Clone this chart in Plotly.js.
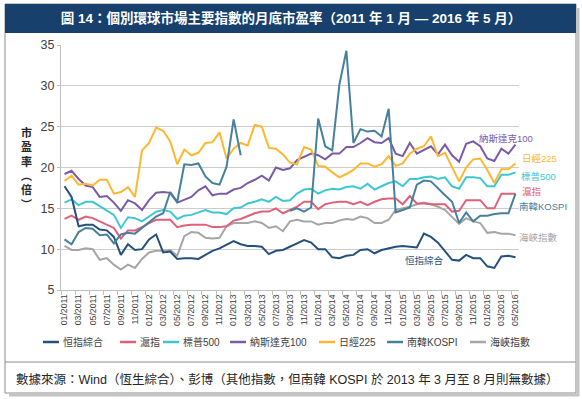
<!DOCTYPE html>
<html><head><meta charset="utf-8">
<script src="https://cdn.plot.ly/plotly-3.0.1.min.js"></script>
<style>html,body{margin:0;padding:0;background:#fff;}#chart{width:582px;height:399px;}</style>
</head><body><div id="chart"></div>
<script>
const months = ['01/2011','02/2011','03/2011','04/2011','05/2011','06/2011','07/2011','08/2011','09/2011','10/2011','11/2011','12/2011',
'01/2012','02/2012','03/2012','04/2012','05/2012','06/2012','07/2012','08/2012','09/2012','10/2012','11/2012','12/2012',
'01/2013','02/2013','03/2013','04/2013','05/2013','06/2013','07/2013','08/2013','09/2013','10/2013','11/2013','12/2013',
'01/2014','02/2014','03/2014','04/2014','05/2014','06/2014','07/2014','08/2014','09/2014','10/2014','11/2014','12/2014',
'01/2015','02/2015','03/2015','04/2015','05/2015','06/2015','07/2015','08/2015','09/2015','10/2015','11/2015','12/2015',
'01/2016','02/2016','03/2016','04/2016','05/2016'];

const hsci = [17.7,16.4,12.8,13.0,13.0,12.4,12.3,11.5,9.3,10.6,9.9,10.0,11.2,11.8,9.6,9.7,8.8,8.9,8.9,8.8,9.3,9.8,10.1,10.5,11.0,10.6,10.4,10.4,10.3,9.4,9.8,9.9,10.3,10.7,11.1,10.8,10.0,10.0,9.0,8.9,9.2,9.3,9.9,10.0,9.5,9.9,10.1,10.3,10.4,10.3,10.2,11.9,11.5,10.8,9.7,8.7,8.6,9.3,8.9,8.9,7.9,7.7,9.1,9.2,9.0];
const shanghai = [13.7,14.1,13.6,14.0,13.8,13.4,13.1,12.6,11.3,12.3,12.3,12.7,13.2,13.6,13.6,13.6,12.7,12.9,13.0,13.0,13.0,12.7,12.7,12.8,13.5,13.7,14.1,14.4,14.6,14.6,15.0,14.4,14.8,15.2,15.8,15.8,14.9,15.5,15.7,15.8,15.8,15.5,15.8,15.4,15.8,16.1,16.2,16.2,15.5,16.5,15.6,15.6,15.5,15.5,15.5,14.6,14.7,16.0,16.0,16.0,15.0,15.0,16.8,16.8,16.8];
const sp500 = [15.7,16.1,15.4,15.8,15.8,15.3,14.8,14.2,12.6,13.9,13.8,13.4,14.0,14.6,14.8,14.6,13.7,14.1,14.2,14.5,14.8,14.5,14.5,14.3,15.0,15.1,15.6,15.8,16.1,15.8,16.4,15.9,16.0,16.8,17.3,17.4,16.8,17.2,17.4,17.3,17.6,17.7,17.4,18.0,17.3,17.7,18.1,18.3,17.7,18.6,18.6,18.8,18.9,18.6,18.8,17.7,17.4,18.8,18.8,18.7,17.7,17.7,19.1,19.1,19.4];
const nasdaq100 = [19.2,19.6,18.6,17.8,17.6,16.4,16.5,15.7,14.7,16.0,15.6,14.8,16.0,16.9,17.0,16.9,15.7,16.1,16.4,17.2,17.7,16.6,16.8,16.8,17.3,17.5,18.1,18.5,19.0,18.4,20.0,19.7,19.9,20.9,21.3,21.7,21.5,21.0,21.7,21.7,22.5,22.5,23.0,23.6,23.1,23.0,23.6,21.7,21.4,23.0,21.7,22.1,22.6,21.6,22.8,21.5,20.7,22.9,23.2,22.6,21.1,20.8,22.3,21.7,22.8];
const nikkei225 = [18.35,19.0,17.9,18.0,17.8,18.5,18.5,16.8,17.0,17.6,16.4,22.1,23.0,24.9,24.5,23.2,20.4,22.2,21.5,21.8,23.0,23.1,24.3,21.1,22.3,23.0,22.7,25.2,25.0,22.4,22.3,21.6,20.6,20.4,22.5,22.2,20.2,20.1,19.4,18.8,19.2,19.7,20.5,20.5,20.1,20.4,21.4,20.2,20.5,21.7,22.3,22.6,23.8,21.4,21.8,20.1,18.3,20.0,21.0,21.1,19.7,18.1,19.8,19.8,20.5];
const kospi = [11.2,10.6,12.1,12.6,12.5,11.7,11.8,10.7,11.8,12.0,11.9,12.6,13.4,14.0,14.4,17.0,15.8,20.4,20.3,20.5,18.9,18.1,17.9,20.1,25.9,21.5,null,null,null,null,null,null,14.7,15.0,14.6,15.1,26.0,22.6,22.1,30.1,34.3,23.0,24.7,24.4,24.5,23.8,27.2,14.5,14.8,15.1,17.9,18.4,18.3,17.4,16.6,15.8,13.2,14.5,13.4,14.1,14.1,14.3,14.4,14.4,16.8];
const taiwan = [10.4,9.9,9.9,10.1,10.0,8.7,8.9,8.1,7.5,8.1,7.7,8.8,9.6,9.8,9.8,9.9,9.2,11.6,12.1,12.0,11.4,11.3,11.4,12.8,13.2,13.2,13.2,13.4,13.2,12.6,12.8,12.2,13.4,13.6,13.4,13.4,13.0,13.2,13.2,13.5,13.7,13.6,14.0,13.8,13.2,13.2,13.6,14.8,15.0,15.2,15.5,15.7,15.5,15.2,14.8,13.9,13.1,13.8,13.4,13.2,12.0,12.1,11.9,11.9,11.7];

const seriesNames = ['恒指綜合','滬指','標普500','納斯達克100','日經225','南韓KOSPI','海峽指數'];
const seriesValues = [hsci, shanghai, sp500, nasdaq100, nikkei225, kospi, taiwan];
const seriesColors = ['#24507e','#e0607a','#3ec6d2','#7a5ba6','#fdb732','#47809b','#a6a6a6'];
const yTicks = [5,10,15,20,25,30,35];

const titleText = '圖 14：個別環球市場主要指數的月底市盈率（2011 年 1 月 — 2016 年 5 月）';
const sourceText = '數據來源：Wind（恆生綜合）、彭博（其他指數，但南韓 KOSPI 於 2013 年 3 月至 8 月則無數據）';
const yTitleText = '市<br>盈<br>率<br>︵<br>倍<br>︶';

const FONT = '"Liberation Sans", Arial, "Noto Sans CJK TC", sans-serif';
const L = 61, T = 45, W = 458, H = 245;
const px = X => (X - L) / W;
const py = Y => (T + H - Y) / H;

const xIdx = months.map((m, i) => i);
const tickIdx = xIdx.filter(i => i % 2 === 0);

const drawOrder = [6, 1, 2, 3, 4, 0, 5];
const traces = drawOrder.map(k => ({
  type: 'scatter', mode: 'lines', name: seriesNames[k],
  x: xIdx, y: seriesValues[k], connectgaps: false,
  line: {color: seriesColors[k], width: 2},
  hoverinfo: 'skip', showlegend: false
}));

const shapes = [];
const annotations = [];

// frame & banner
shapes.push({type:'rect', xref:'paper', yref:'paper', x0:px(5), x1:px(576), y0:py(4), y1:py(393), line:{color:'#8c8c8c', width:1}, fillcolor:'rgba(0,0,0,0)', layer:'below'});
shapes.push({type:'line', xref:'paper', yref:'paper', x0:px(578), x1:px(578), y0:py(8), y1:py(396), line:{color:'#c4c4c4', width:3}});
shapes.push({type:'line', xref:'paper', yref:'paper', x0:px(9), x1:px(579), y0:py(395), y1:py(395), line:{color:'#c4c4c4', width:3}});
shapes.push({type:'line', xref:'paper', yref:'paper', x0:px(5), x1:px(576), y0:py(362), y1:py(362), line:{color:'#8c8c8c', width:1}});
shapes.push({type:'rect', xref:'paper', yref:'paper', x0:px(5), x1:px(576), y0:py(4), y1:py(33), line:{width:0}, fillcolor:'#17406d', layer:'below'});

// y title stacked (single text block)
annotations.push({
  xref:'paper', yref:'paper', x:px(26), y:py(168), text:'<b>'+yTitleText+'</b>', showarrow:false,
  xanchor:'center', yanchor:'middle', align:'center', font:{family:FONT, size:11, color:'#262626'}
});

// series labels
const labelPos = [[403,260],[520,191],[519,176],[477,138],[520,158],[517,207],[517,237]];
seriesNames.forEach((n, k) => annotations.push({
  xref:'paper', yref:'paper', x:px(labelPos[k][0]), y:py(labelPos[k][1]), text:n, showarrow:false,
  xanchor:'left', yanchor:'middle', font:{family:FONT, size:9.5, color:seriesColors[k]}
}));

// manual legend
const legendX = [43,120,163,230,319,387,470];
const legendY = 342;
seriesNames.forEach((n, k) => {
  shapes.push({type:'line', xref:'paper', yref:'paper', x0:px(legendX[k]), x1:px(legendX[k]+16), y0:py(legendY), y1:py(legendY), line:{color:seriesColors[k], width:2.5}});
  annotations.push({xref:'paper', yref:'paper', x:px(legendX[k]+18), y:py(legendY), text:n, showarrow:false,
    xanchor:'left', yanchor:'middle', font:{family:FONT, size:10, color:'#404040'}});
});

// source
annotations.push({xref:'paper', yref:'paper', x:px(14), y:py(379), text:sourceText, showarrow:false,
  xanchor:'left', yanchor:'middle', font:{family:FONT, size:12.5, color:'#262626'}});

const layout = {
  width: 582, height: 399,
  margin: {l: L, r: 582 - L - W, t: T, b: 399 - T - H, pad: 0},
  paper_bgcolor: '#ffffff', plot_bgcolor: '#ffffff',
  showlegend: false,
  title: {text: '<b>' + titleText + '</b>', x: 0.5, xref: 'container', xanchor: 'center',
          y: 1 - 18.5/399, yref: 'container', yanchor: 'middle',
          font: {family: FONT, size: 13.5, color: '#ffffff'}},
  xaxis: {
    range: [-0.5, 64.5], tickmode: 'array', tickvals: tickIdx, ticktext: tickIdx.map(i => months[i]),
    tickangle: -90, ticks: '', showgrid: false, zeroline: false,
    showline: true, linecolor: '#bfbfbf', linewidth: 1,
    tickfont: {family: FONT, size: 8.7, color: '#404040'},
    minor: {tick0: -0.5, dtick: 2, ticks: 'outside', ticklen: 4, tickcolor: '#bfbfbf', tickwidth: 1, showgrid: false},
    fixedrange: true
  },
  yaxis: {
    range: [5, 35], tickmode: 'array', tickvals: yTicks, ticks: 'outside', ticklen: 3, tickcolor: '#bfbfbf',
    showgrid: true, gridcolor: '#cccccc', gridwidth: 1.2, zeroline: false,
    showline: true, linecolor: '#bfbfbf', linewidth: 1,
    tickfont: {family: FONT, size: 12.5, color: '#404040'},
    fixedrange: true
  },
  shapes: shapes,
  annotations: annotations
};

Plotly.newPlot('chart', traces, layout, {displayModeBar: false, staticPlot: true});
</script></body></html>
